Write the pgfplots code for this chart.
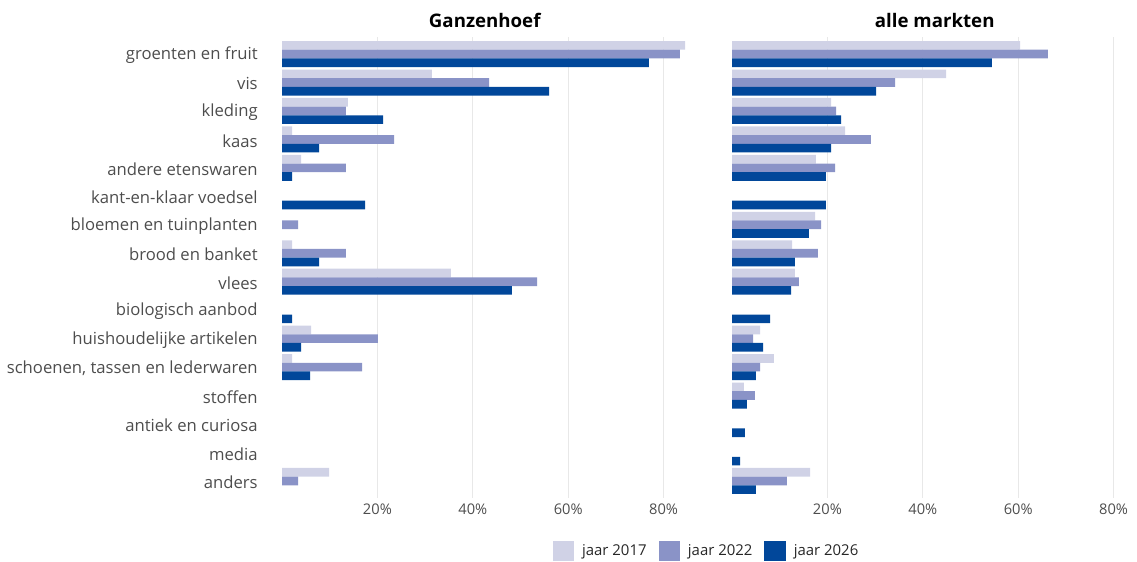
\documentclass[border=0pt]{standalone}
\usepackage{fontspec}
\setmainfont{Open Sans}
\usepackage{pgfplots}
\pgfplotsset{compat=1.18}

\definecolor{c17}{HTML}{D0D2E6}
\definecolor{c22}{HTML}{8A93C7}
\definecolor{c26}{HTML}{01479A}
\definecolor{labgrey}{HTML}{4D4D4D}
\definecolor{gridgrey}{HTML}{E8E8E8}

\pgfplotsset{
  panel/.style={
    xbar, scale only axis,
    width=304.1pt, height=345.75pt,
    xmin=0, xmax=85, ymin=-0.6, ymax=15.6,
    y dir=reverse,
    bar width=6.5pt,
    axis line style={draw=none},
    major tick length=0pt,
    xmajorgrids, grid style={gridgrey, line width=0.9pt},
    xtick={20,40,60,80},
    xticklabel={\pgfmathprintnumber{\tick}\%},
    /pgf/number format/assume math mode=true,
    xticklabel style={font=\fontsize{11}{12}\selectfont, text=labgrey, yshift=-1pt},
    ytick={0,...,15},
    title style={at={(0.5,1)}, anchor=center, yshift=6.75pt,
      font=\fontsize{14}{15}\selectfont\bfseries},
  },
  s17/.style={fill=c17, draw=none, bar shift=6.5pt},
  s22/.style={fill=c22, draw=none, bar shift=0pt},
  s26/.style={fill=c26, draw=none, bar shift=-6.5pt},
}

\begin{document}
\begin{tikzpicture}
\path[use as bounding box] (0pt,0pt) rectangle (852.75pt,-420.75pt);

% Ganzenhoef
\begin{axis}[panel, at={(211.5pt,-27.75pt)}, anchor=north west,
  title={Ganzenhoef},
  yticklabels={groenten en fruit, vis, kleding, kaas, andere etenswaren,
    kant-en-klaar voedsel, bloemen en tuinplanten, brood en banket, vlees,
    biologisch aanbod, huishoudelijke artikelen,
    {schoenen, tassen en lederwaren}, stoffen, antiek en curiosa, media, anders},
  yticklabel style={font=\fontsize{12.5}{14}\selectfont, text=labgrey,
    anchor=east, xshift=-14.7pt, yshift=-1pt},
]
\addplot[s17] coordinates {(84.5,0) (31.4,1) (13.8,2) (2.1,3) (4.0,4)
  (2.1,7) (35.4,8) (6.1,10) (2.1,11) (9.9,15)};
\addplot[s22] coordinates {(83.4,0) (43.4,1) (13.4,2) (23.5,3) (13.4,4)
  (3.4,6) (13.4,7) (53.5,8) (20.1,10) (16.8,11) (3.4,15)};
\addplot[s26] coordinates {(76.9,0) (56.0,1) (21.2,2) (7.8,3) (2.1,4)
  (17.4,5) (7.8,7) (48.2,8) (2.1,9) (4.0,10) (5.9,11)};
\end{axis}

% alle markten
\begin{axis}[panel, at={(549pt,-27.75pt)}, anchor=north west,
  title={alle markten},
  yticklabels={},
  legend columns=3,
  legend style={at={(-0.062,-0.115)}, anchor=center, draw=none, fill=none,
    font=\fontsize{11.2}{12}\selectfont, text=black!85,
    /tikz/every odd column/.append style={column sep=4pt},
    /tikz/every even column/.append style={column sep=7pt},
    inner sep=0pt, outer sep=0pt},
  legend image code/.code={\fill[#1] (0pt,-7.5pt) rectangle (16pt,7.5pt);},
]
\addplot[s17] coordinates {(60.4,0) (44.9,1) (20.8,2) (23.7,3) (17.6,4)
  (17.4,6) (12.6,7) (13.2,8) (5.9,10) (8.8,11) (2.5,12) (16.4,15)};
\addplot[s22] coordinates {(66.2,0) (34.2,1) (21.8,2) (29.1,3) (21.6,4)
  (18.7,6) (18.0,7) (14.0,8) (4.4,10) (5.9,11) (4.8,12) (11.5,15)};
\addplot[s26] coordinates {(54.5,0) (30.2,1) (22.9,2) (20.8,3) (19.7,4)
  (19.7,5) (16.1,6) (13.2,7) (12.4,8) (8.0,9) (6.5,10) (5.0,11) (3.1,12)
  (2.7,13) (1.7,14) (5.0,15)};
\legend{jaar 2017, jaar 2022, jaar 2026}
\end{axis}
\end{tikzpicture}
\end{document}
